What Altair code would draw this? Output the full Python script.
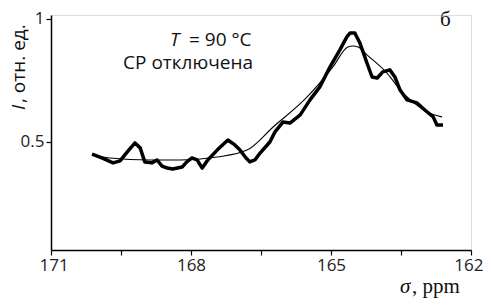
import altair as alt
import pandas as pd

# Experimental spectrum (thick noisy line)
sigma_exp = [170.12, 169.91, 169.67, 169.52, 169.37, 169.20, 169.09, 168.99, 168.84, 168.73,
             168.62, 168.51, 168.39, 168.19, 168.09, 167.98, 167.87, 167.76, 167.64, 167.44,
             167.21, 167.06, 166.95, 166.82, 166.74, 166.63, 166.52, 166.31, 166.20, 166.03,
             165.88, 165.66, 165.45, 165.24, 165.02, 164.81, 164.66, 164.59, 164.49, 164.38,
             164.23, 164.12, 164.01, 163.89, 163.74, 163.63, 163.52, 163.37, 163.16, 162.99,
             162.81, 162.73, 162.60]
I_exp = [0.451, 0.435, 0.415, 0.423, 0.459, 0.496, 0.476, 0.419, 0.415, 0.427,
         0.402, 0.394, 0.390, 0.398, 0.419, 0.435, 0.427, 0.394, 0.427, 0.467,
         0.508, 0.488, 0.467, 0.435, 0.419, 0.427, 0.455, 0.500, 0.541, 0.581,
         0.577, 0.610, 0.671, 0.724, 0.805, 0.874, 0.927, 0.943, 0.943, 0.902,
         0.821, 0.764, 0.760, 0.785, 0.793, 0.764, 0.711, 0.671, 0.659, 0.630,
         0.602, 0.569, 0.569]

# Smooth fitted curve (thin line)
sigma_fit = [170.12, 169.74, 168.88, 168.24, 167.44, 166.80, 166.24, 165.51, 164.96, 164.64,
             164.53, 164.42, 164.23, 163.80, 163.46, 163.16, 162.94, 162.62]
I_fit = [0.447, 0.435, 0.427, 0.427, 0.439, 0.467, 0.561, 0.683, 0.805, 0.886,
         0.890, 0.886, 0.854, 0.780, 0.699, 0.650, 0.622, 0.602]

x_ticks = [171, 169.5, 168, 166.5, 165, 163.5, 162]
y_ticks = [0.5, 1]

exp_df = pd.DataFrame({"sigma": sigma_exp, "I": I_exp})
fit_df = pd.DataFrame({"sigma": sigma_fit, "I": I_fit})

FONT = "Open Sans"
SERIF = "Liberation Serif"

x_enc = alt.X("sigma:Q",
              scale=alt.Scale(domain=[162, 171], reverse=True, nice=False, zero=False),
              axis=alt.Axis(values=x_ticks, title=None, grid=False,
                            labelExpr="datum.value % 3 == 0 ? format(datum.value, 'd') : ''",
                            labelFlush=True, labelFlushOffset=12, labelOverlap=False,
                            tickSize=5, labelPadding=2, labelFont=FONT, labelFontSize=17,
                            labelColor="#222", domainColor="black", tickColor="black",
                            domainWidth=1.5, tickWidth=1.2))
y_enc = alt.Y("I:Q",
              scale=alt.Scale(domain=[0.061, 1.016], nice=False, zero=False),
              axis=alt.Axis(values=y_ticks, title=None, grid=False,
                            labelExpr="datum.value == 1 ? '1' : '0.5'",
                            tickSize=5, labelPadding=2, labelFont=FONT, labelFontSize=17,
                            labelColor="#222", domainColor="black", tickColor="black",
                            domainWidth=1.5, tickWidth=1.2))

exp_line = alt.Chart(exp_df).mark_line(color="black", strokeWidth=3.5,
                                       strokeJoin="round").encode(x=x_enc, y=y_enc)
fit_line = alt.Chart(fit_df).mark_line(color="black", strokeWidth=1.1,
                                       interpolate="monotone").encode(x="sigma:Q", y="I:Q")

def txt(s, x, y, font=FONT, size=18, italic=False, align="left", baseline="alphabetic", angle=0):
    kw = dict(text=s, font=font, fontSize=size, align=align, baseline=baseline,
              color="#111")
    if italic:
        kw["fontStyle"] = "italic"
    if angle:
        kw["angle"] = angle
    return alt.Chart(pd.DataFrame({"a": [0]})).mark_text(**kw).encode(
        x=alt.value(x), y=alt.value(y))

# pixel positions relative to the plot area (origin at top-left of plot)
annots = [
    txt("T", 119, 31, size=19, italic=True),
    txt("= 90 °C", 138, 31, size=19),
    txt("СР отключена", 202, 54, size=19, align="right"),
    txt("б", 389, 11, font=SERIF, size=21),
    txt("σ", 349, 278, font=SERIF, size=21, italic=True),
    txt(", ppm", 361, 278, font=SERIF, size=21),
    txt("I", -26, 95, size=19, italic=True, angle=270),
    txt(", отн. ед.", -26, 88, size=19, angle=270),
]

chart = alt.layer(exp_line, fit_line, *annots).properties(
    width=420, height=235,
    autosize=alt.AutoSizeParams(type="none"),
    padding={"left": 43, "top": 7, "right": 12, "bottom": 49},
).configure_view(stroke=None).configure(background="white")

chart.save("out.html", embed_options={"renderer": "svg", "actions": False})
